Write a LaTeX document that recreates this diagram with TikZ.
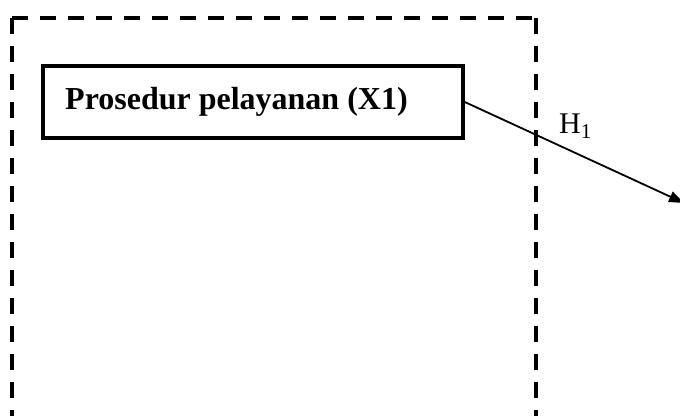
\documentclass[tikz,border=0pt]{standalone}
\usepackage{fontspec}
\setmainfont{Liberation Serif}
\usetikzlibrary{arrows.meta}
\begin{document}
\begin{tikzpicture}[x=1pt,y=-1pt,
  frame/.style={line width=3.4pt,dash pattern=on 16pt off 12pt},
  varbox/.style={draw,line width=3.6pt,minimum width=420pt,minimum height=72pt,inner sep=0pt},
  boxtext/.style={font=\bfseries\fontsize{32}{38}\selectfont,inner sep=0pt,anchor=base west},
  path/.style={line width=1.8pt,-{Triangle[length=15pt,width=11pt]}},
  hyp/.style={font=\fontsize{30}{36}\selectfont,inner sep=0pt,anchor=base west}]
  \useasboundingbox (0,0) rectangle (680,415);
  % dashed frame, open at the bottom
  \coordinate (tl) at (12,18);
  \coordinate (tr) at (536,18);
  \coordinate (bl) at (12,425);
  \coordinate (br) at (536,425);
  \draw[frame] (tl) -- (bl);
  \draw[frame] (tl) -- (tr);
  \draw[frame] (tr) -- (br);
  % variable box
  \node[varbox] (x1) at (253,102) {};
  \node[boxtext] (x1t) at (65,109) {Prosedur pelayanan (X1)};
  % hypothesis path
  \coordinate (tip) at (684,203);
  \draw[path] (x1.east) -- (tip);
  \node[hyp] (h1) at (559,133) {H\textsubscript{1}};
\end{tikzpicture}
\end{document}
